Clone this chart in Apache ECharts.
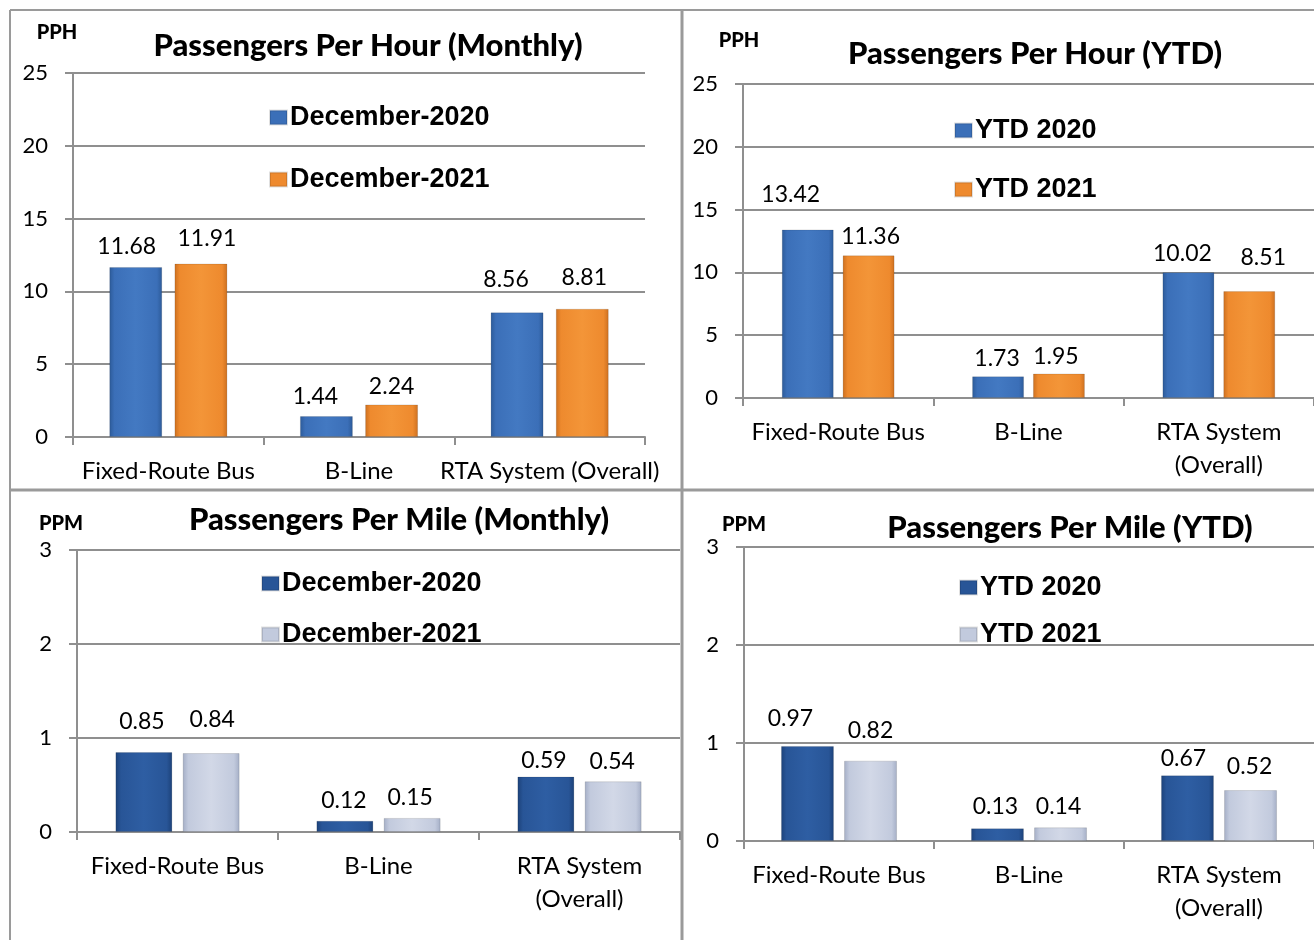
<!DOCTYPE html>
<html>
<head>
<meta charset="utf-8">
<title>Passengers Per Hour / Per Mile</title>
<script src="https://cdn.jsdelivr.net/npm/echarts@6/dist/echarts.min.js"></script>
<style>
  html, body { margin: 0; padding: 0; background: #fff; }
  #main { width: 1314px; height: 940px; }
</style>
</head>
<body>
<div id="main"></div>
<script>
// categories
const categories = ['Fixed-Route Bus', 'B-Line', 'RTA System (Overall)'];
const categoriesWrapped = ['Fixed-Route Bus', 'B-Line', 'RTA System\n(Overall)'];

// passengers per hour
const pphMonthly2020 = [11.68, 1.44, 8.56];
const pphMonthly2021 = [11.91, 2.24, 8.81];
const pphYtd2020 = [13.42, 1.73, 10.02];
const pphYtd2021 = [11.36, 1.95, 8.51];

// passengers per mile
const ppmMonthly2020 = [0.85, 0.12, 0.59];
const ppmMonthly2021 = [0.84, 0.15, 0.54];
const ppmYtd2020 = [0.97, 0.13, 0.67];
const ppmYtd2021 = [0.82, 0.14, 0.52];

// legend names
const monthlyNames = ['December-2020', 'December-2021'];
const ytdNames = ['YTD 2020', 'YTD 2021'];

const GRID_GRAY = '#8f8f8f';
const LABEL_FONT = 'Lato';

// bevel-ish fill for the bars
function barFill(edge, main, light) {
  return new echarts.graphic.LinearGradient(0, 0, 1, 0, [
    { offset: 0, color: edge },
    { offset: 0.1, color: main },
    { offset: 0.5, color: light },
    { offset: 0.9, color: main },
    { offset: 1, color: edge }
  ]);
}

const blue = barFill('#2c5a98', '#3b6fb8', '#4379c2');
const orange = barFill('#cc6f1f', '#ee8a2e', '#f39538');
const navy = barFill('#1c4178', '#285597', '#2e5ea3');
const silver = barFill('#a4aec6', '#c2cadd', '#d2d8e7');

// layout of the four panels (px)
const panels = [
  {
    title: 'Passengers Per Hour (Monthly)', unit: 'PPH', titleAt: [368, 46], unitAt: [57, 33],
    cats: categories, names: monthlyNames, values: [pphMonthly2020, pphMonthly2021],
    colors: [blue, orange], icons: ['#3b6fb8', '#ee8a2e'], max: 25, interval: 5,
    grid: { left: 73, top: 73, width: 572, height: 364 },
    legend: { left: 264, top: 99, itemGap: 35 },
    barWidth: 53, barGap: '23%',
    nudge: [[[-9, -1], [-11, 0], [-11, -13]], [[6, -6], [0, 2], [2, -12]]]
  },
  {
    title: 'Passengers Per Hour (YTD)', unit: 'PPH', titleAt: [1035, 54], unitAt: [739, 41],
    cats: categoriesWrapped, names: ytdNames, values: [pphYtd2020, pphYtd2021],
    colors: [blue, orange], icons: ['#3b6fb8', '#ee8a2e'], max: 25, interval: 5,
    grid: { left: 743, top: 84, width: 581, height: 314 },
    legend: { left: 949, top: 112, itemGap: 32 },
    barWidth: 52, barGap: '17%',
    nudge: [[[-17, -15], [-1, 2], [-6, 1]], [[2, 1], [-3, 3], [14, -14]]]
  },
  {
    title: 'Passengers Per Mile (Monthly)', unit: 'PPM', titleAt: [399, 520], unitAt: [61, 524],
    cats: categoriesWrapped, names: monthlyNames, values: [ppmMonthly2020, ppmMonthly2021],
    colors: [navy, silver], icons: ['#285597', '#c2cadd'], max: 3, interval: 1,
    grid: { left: 77, top: 550, width: 603, height: 282 },
    legend: { left: 256, top: 565, itemGap: 24 },
    barWidth: 57, barGap: '18%',
    nudge: [[[-2, -11], [-1, -1], [-2, 4]], [[1, -14], [-2, -1], [-1, 0]]]
  },
  {
    title: 'Passengers Per Mile (YTD)', unit: 'PPM', titleAt: [1070, 528], unitAt: [744, 525],
    cats: categoriesWrapped, names: ytdNames, values: [ppmYtd2020, ppmYtd2021],
    colors: [navy, silver], icons: ['#285597', '#c2cadd'], max: 3, interval: 1,
    grid: { left: 744, top: 547, width: 588, height: 294 },
    legend: { left: 954, top: 569, itemGap: 20 },
    barWidth: 53, barGap: '19%',
    nudge: [[[-17, -8], [-2, -2], [-4, 3]], [[0, -11], [-2, -1], [-1, -4]]]
  }
];

const grids = [], xAxes = [], yAxes = [], legends = [], series = [], texts = [];

panels.forEach(function (p, i) {
  grids.push(Object.assign({ containLabel: false }, p.grid));

  xAxes.push({
    type: 'category', gridIndex: i, data: p.cats,
    axisLine: { lineStyle: { color: GRID_GRAY, width: 2 } },
    axisTick: { show: true, length: 8, lineStyle: { color: GRID_GRAY, width: 2 } },
    axisLabel: { color: '#000', fontFamily: LABEL_FONT, fontSize: 24, margin: 18, lineHeight: 33, interval: 0 }
  });

  yAxes.push({
    type: 'value', gridIndex: i, min: 0, max: p.max, interval: p.interval,
    axisLine: { show: true, lineStyle: { color: GRID_GRAY, width: 2 } },
    axisTick: { show: true, length: 8, lineStyle: { color: GRID_GRAY, width: 2 } },
    splitLine: { lineStyle: { color: GRID_GRAY, width: 2 } },
    axisLabel: { color: '#000', fontFamily: LABEL_FONT, fontSize: 22, margin: 25 }
  });

  // legend names repeat across panels, so each entry gets its own icon colour
  legends.push({
    data: p.names.map(function (n, s) {
      return { name: n, itemStyle: { color: p.icons[s] } };
    }),
    orient: 'vertical', left: p.legend.left, top: p.legend.top,
    itemGap: p.legend.itemGap, itemWidth: 17, itemHeight: 14, icon: 'rect',
    textStyle: { fontFamily: 'Liberation Sans', fontWeight: 'bold', fontSize: 27, color: '#000', padding: [0, 0, 0, -2] }
  });

  p.values.forEach(function (vals, s) {
    series.push({
      type: 'bar', name: p.names[s], xAxisIndex: i, yAxisIndex: i,
      barWidth: p.barWidth, barGap: p.barGap,
      itemStyle: { color: p.colors[s], borderColor: 'rgba(0,0,0,0.12)', borderWidth: 1 },
      label: {
        show: true, position: 'top', distance: 8, color: '#000',
        fontFamily: LABEL_FONT, fontSize: 23,
        formatter: function (d) { return d.value.toFixed(2); }
      },
      data: vals.map(function (v, k) {
        return { value: v, label: { offset: p.nudge[s][k] } };
      })
    });
  });

  texts.push({
    type: 'text', x: p.titleAt[0], y: p.titleAt[1],
    style: { text: p.title, fill: '#000', font: '900 31px Lato', textAlign: 'center', textVerticalAlign: 'middle' }
  });
  texts.push({
    type: 'text', x: p.unitAt[0], y: p.unitAt[1],
    style: { text: p.unit, fill: '#000', font: '900 20px Lato', textAlign: 'center', textVerticalAlign: 'middle' }
  });
});

// table borders around the panels
const BORDER = '#9a9a9a';
const borders = [
  { type: 'line', shape: { x1: 10, y1: 10, x2: 1314, y2: 10 }, style: { stroke: BORDER, lineWidth: 2 } },
  { type: 'line', shape: { x1: 10, y1: 10, x2: 10, y2: 940 }, style: { stroke: BORDER, lineWidth: 2 } },
  { type: 'line', shape: { x1: 682, y1: 10, x2: 682, y2: 940 }, style: { stroke: BORDER, lineWidth: 3 } },
  { type: 'line', shape: { x1: 10, y1: 490, x2: 1314, y2: 490 }, style: { stroke: BORDER, lineWidth: 3 } }
];

const chart = echarts.init(document.getElementById('main'));
chart.setOption({
  animation: false,
  backgroundColor: '#fff',
  grid: grids,
  xAxis: xAxes,
  yAxis: yAxes,
  legend: legends,
  series: series,
  graphic: borders.concat(texts)
});
</script>
</body>
</html>
